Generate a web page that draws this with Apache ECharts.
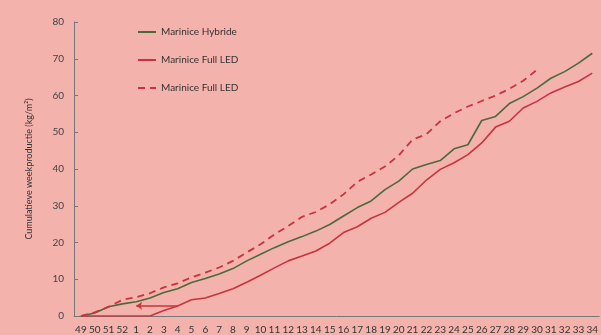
<!DOCTYPE html>
<html>
<head>
<meta charset="utf-8">
<script src="https://cdn.jsdelivr.net/npm/echarts@6/dist/echarts.min.js"></script>
<style>
  html, body { margin: 0; padding: 0; background: #f4b2ac; }
  #chart { width: 601px; height: 335px; }
</style>
</head>
<body>
<div id="chart"></div>
<script>
// weeks 49..52 then 1..34
const weeks = ['49', '50', '51', '52', '1', '2', '3', '4', '5', '6', '7', '8', '9', '10',
  '11', '12', '13', '14', '15', '16', '17', '18', '19', '20', '21', '22', '23', '24',
  '25', '26', '27', '28', '29', '30', '31', '32', '33', '34'];

const hybride = [0, 0.8, 2.5, 3.3, 3.9, 4.9, 6.4, 7.4, 9.1, 10.2, 11.4, 12.9, 15.0, 16.8,
  18.6, 20.2, 21.6, 23.1, 24.9, 27.2, 29.5, 31.3, 34.4, 36.7, 40.0, 41.2, 42.3, 45.5,
  46.6, 53.2, 54.3, 57.8, 59.7, 62.0, 64.7, 66.5, 68.8, 71.5];

const fullLed = [0, 0, 0, 0, 0, 0, 1.5, 2.7, 4.4, 4.9, 6.1, 7.4, 9.2, 11.1,
  13.1, 15.0, 16.3, 17.7, 19.8, 22.7, 24.3, 26.6, 28.2, 30.9, 33.4, 37.0, 39.9, 41.7,
  43.9, 47.1, 51.4, 53.0, 56.6, 58.4, 60.7, 62.3, 63.8, 66.1];

// dashed line (stops at week 30)
const fullLedDashed = [0, 1.0, 2.5, 4.4, 5.1, 6.2, 7.8, 8.9, 10.5, 11.8, 13.2, 15.0, 17.3, 19.5,
  22.2, 24.5, 27.0, 28.3, 30.4, 33.1, 36.5, 38.5, 40.7, 43.7, 48.0, 49.5, 53.0, 55.2,
  57.0, 58.5, 60.0, 61.8, 64.0, 67.0, null, null, null, null];

const green = '#4b6a3c';
const red = '#c9333f';

const chart = echarts.init(document.getElementById('chart'));
chart.setOption({
  backgroundColor: '#f4b2ac',
  animation: false,
  textStyle: { fontFamily: 'Lato, "Open Sans", sans-serif' },
  legend: {
    orient: 'vertical',
    left: 137,
    top: 27,
    padding: 0,
    itemWidth: 18,
    itemHeight: 12,
    itemGap: 18,
    data: ['Marinice Hybride', 'Marinice Full LED', 'Marinice Full LED '],
    formatter: n => n.trim(),
    itemStyle: { opacity: 0 },
    textStyle: { fontSize: 10, color: '#333' }
  },
  grid: { left: 74, top: 22, width: 532, height: 295 },
  xAxis: {
    type: 'category',
    data: weeks,
    boundaryGap: true,
    axisLine: { lineStyle: { color: '#777' } },
    axisTick: { inside: true, length: 4, lineStyle: { color: '#777' } },
    axisLabel: { interval: 0, fontSize: 10, color: '#333', margin: 9 }
  },
  yAxis: {
    type: 'value',
    min: 0,
    max: 80,
    interval: 10,
    name: 'Cumulatieve weekproductie (kg/m²)',
    nameLocation: 'middle',
    nameGap: 40,
    nameTextStyle: { fontSize: 9, color: '#333' },
    axisLine: { show: true, lineStyle: { color: '#777' } },
    axisTick: { show: true, inside: true, length: 4, lineStyle: { color: '#777' } },
    axisLabel: { fontSize: 10, color: '#444', margin: 10 },
    splitLine: { show: false }
  },
  series: [
    {
      name: 'Marinice Hybride',
      type: 'line',
      data: hybride,
      symbol: 'none',
      lineStyle: { color: green, width: 1.6 },
      itemStyle: { color: green }
    },
    {
      name: 'Marinice Full LED',
      type: 'line',
      data: fullLed,
      symbol: 'none',
      lineStyle: { color: red, width: 1.6 },
      itemStyle: { color: red },
      markLine: {
        silent: true,
        symbol: ['none', 'arrow'],
        symbolSize: 6,
        label: { show: false },
        lineStyle: { color: red, width: 1.6, type: 'solid' },
        data: [[{ coord: ['4', 2.8] }, { coord: ['1', 2.8] }]]
      }
    },
    {
      name: 'Marinice Full LED ',
      type: 'line',
      data: fullLedDashed,
      symbol: 'none',
      lineStyle: { color: red, width: 1.8, type: [7, 5] },
      itemStyle: { color: red }
    }
  ]
});
</script>
</body>
</html>
